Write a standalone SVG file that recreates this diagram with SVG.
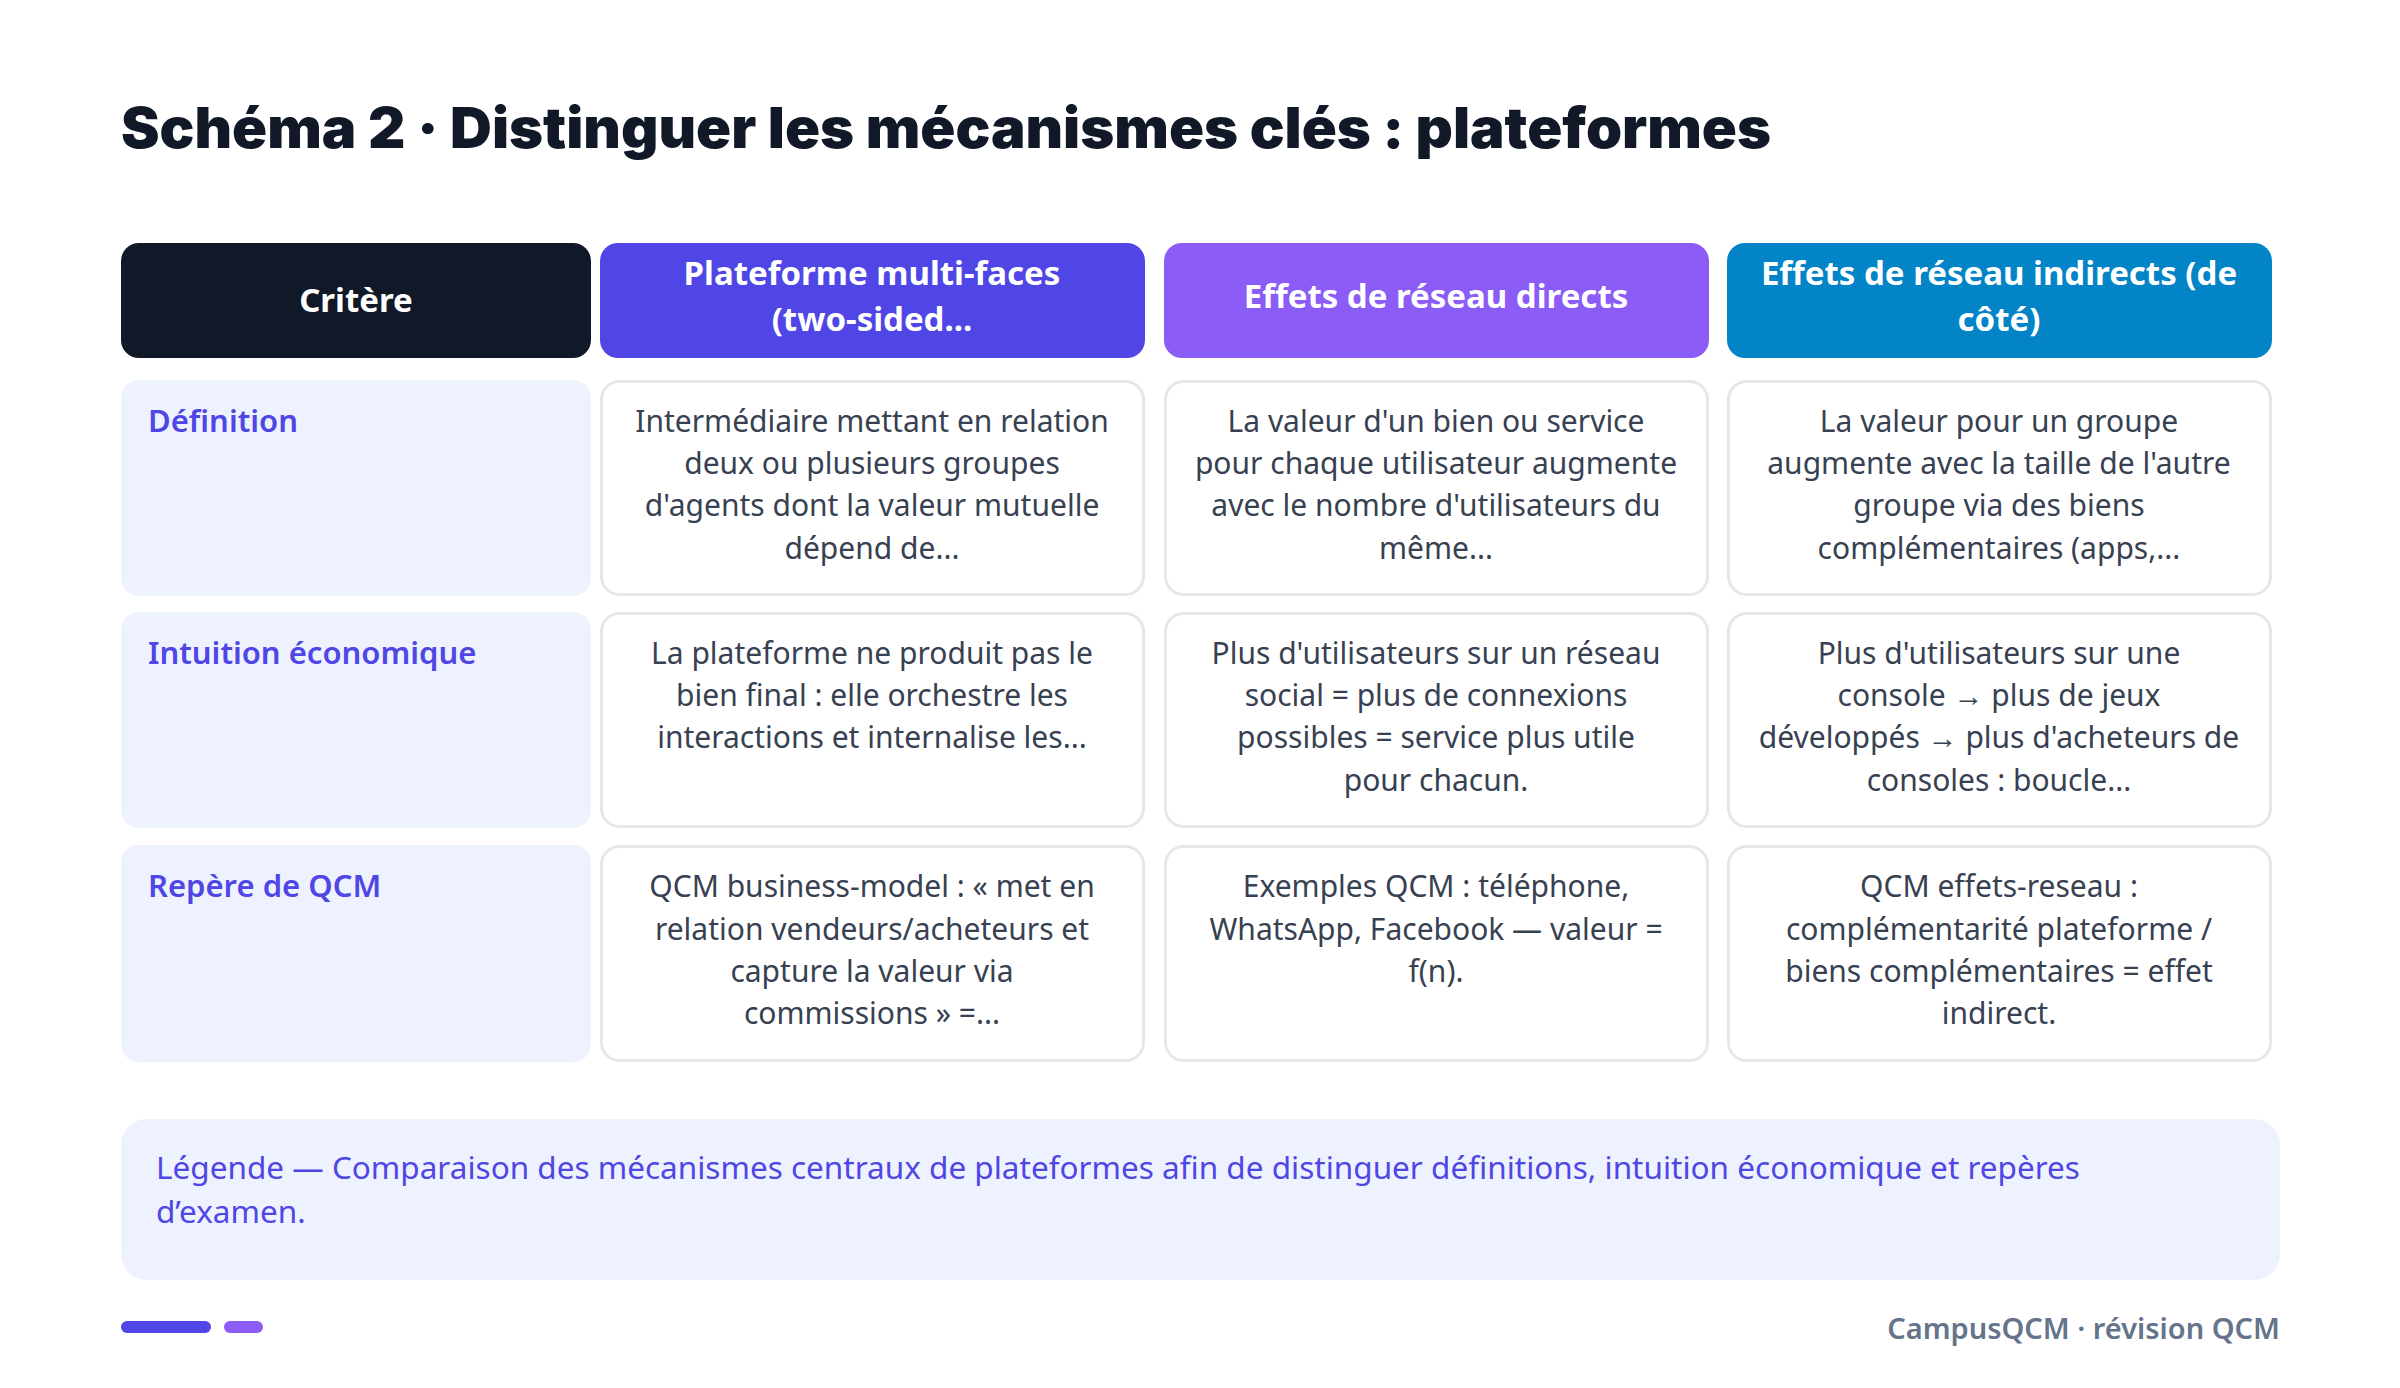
<svg xmlns="http://www.w3.org/2000/svg" width="2400" height="1388" viewBox="0 0 2400 1388">
<style>
text{font-family:"Noto Sans","Open Sans","Liberation Sans",sans-serif}
.title{font-family:Inter,"Noto Sans",sans-serif;font-weight:900;font-size:56px;fill:#111827}
.hd{fill:#fff;font-weight:700;font-size:33px;text-anchor:middle}
.lab{fill:#4f46e5;font-weight:600;font-size:31px}
.cell{fill:#fff;stroke:#e5e7eb;stroke-width:3}
.labbg{fill:#eef2ff}
.tx{fill:#374151;font-size:30px;text-anchor:middle}
.leg{fill:#4f46e5;font-size:31.5px}
</style>
<rect width="2400" height="1388" fill="#fff"/>
<text class="title" x="121" y="148" textLength="1650" lengthAdjust="spacingAndGlyphs">Schéma 2 · Distinguer les mécanismes clés : plateformes</text>
<g id="header">
<g id="h-critere"><rect x="121" y="243" width="470" height="115" rx="18" fill="#111827"/><text class="hd" x="356" y="312">Critère</text></g>
<g id="h-multi"><rect x="600" y="243" width="545" height="115" rx="18" fill="#4f46e5"/><text class="hd" x="872" y="285">Plateforme multi-faces</text><text class="hd" x="872" y="331">(two-sided...</text></g>
<g id="h-direct"><rect x="1164" y="243" width="545" height="115" rx="18" fill="#8b5cf6"/><text class="hd" x="1436" y="308">Effets de réseau directs</text></g>
<g id="h-indirect"><rect x="1727" y="243" width="545" height="115" rx="18" fill="#0284c7"/><text class="hd" x="1999" y="285">Effets de réseau indirects (de</text><text class="hd" x="1999" y="331">côté)</text></g>
</g>
<g id="row-definition">
<rect class="labbg" x="121" y="380" width="470" height="216" rx="18"/><text class="lab" x="148" y="432">Définition</text>
<rect class="cell" x="601.5" y="381.5" width="542" height="213" rx="18"/>
<text class="tx" x="872" y="432">Intermédiaire mettant en relation</text><text class="tx" x="872" y="474">deux ou plusieurs groupes</text><text class="tx" x="872" y="516">d'agents dont la valeur mutuelle</text><text class="tx" x="872" y="559">dépend de...</text>
<rect class="cell" x="1165.5" y="381.5" width="542" height="213" rx="18"/>
<text class="tx" x="1436" y="432">La valeur d'un bien ou service</text><text class="tx" x="1436" y="474">pour chaque utilisateur augmente</text><text class="tx" x="1436" y="516">avec le nombre d'utilisateurs du</text><text class="tx" x="1436" y="559">même...</text>
<rect class="cell" x="1728.5" y="381.5" width="542" height="213" rx="18"/>
<text class="tx" x="1999" y="432">La valeur pour un groupe</text><text class="tx" x="1999" y="474">augmente avec la taille de l'autre</text><text class="tx" x="1999" y="516">groupe via des biens</text><text class="tx" x="1999" y="559">complémentaires (apps,...</text>
</g>
<g id="row-intuition">
<rect class="labbg" x="121" y="612" width="470" height="216" rx="18"/><text class="lab" x="148" y="664">Intuition économique</text>
<rect class="cell" x="601.5" y="613.5" width="542" height="213" rx="18"/>
<text class="tx" x="872" y="664">La plateforme ne produit pas le</text><text class="tx" x="872" y="706">bien final : elle orchestre les</text><text class="tx" x="872" y="748">interactions et internalise les...</text>
<rect class="cell" x="1165.5" y="613.5" width="542" height="213" rx="18"/>
<text class="tx" x="1436" y="664">Plus d'utilisateurs sur un réseau</text><text class="tx" x="1436" y="706">social = plus de connexions</text><text class="tx" x="1436" y="748">possibles = service plus utile</text><text class="tx" x="1436" y="791">pour chacun.</text>
<rect class="cell" x="1728.5" y="613.5" width="542" height="213" rx="18"/>
<text class="tx" x="1999" y="664">Plus d'utilisateurs sur une</text><text class="tx" x="1999" y="706">console → plus de jeux</text><text class="tx" x="1999" y="748">développés → plus d'acheteurs de</text><text class="tx" x="1999" y="791">consoles : boucle...</text>
</g>
<g id="row-qcm">
<rect class="labbg" x="121" y="845" width="470" height="217" rx="18"/><text class="lab" x="148" y="897">Repère de QCM</text>
<rect class="cell" x="601.5" y="846.5" width="542" height="214" rx="18"/>
<text class="tx" x="872" y="897">QCM business-model : « met en</text><text class="tx" x="872" y="940">relation vendeurs/acheteurs et</text><text class="tx" x="872" y="982">capture la valeur via</text><text class="tx" x="872" y="1024">commissions » =...</text>
<rect class="cell" x="1165.5" y="846.5" width="542" height="214" rx="18"/>
<text class="tx" x="1436" y="897">Exemples QCM : téléphone,</text><text class="tx" x="1436" y="940">WhatsApp, Facebook — valeur =</text><text class="tx" x="1436" y="982">f(n).</text>
<rect class="cell" x="1728.5" y="846.5" width="542" height="214" rx="18"/>
<text class="tx" x="1999" y="897">QCM effets-reseau :</text><text class="tx" x="1999" y="940">complémentarité plateforme /</text><text class="tx" x="1999" y="982">biens complémentaires = effet</text><text class="tx" x="1999" y="1024">indirect.</text>
</g>
<g id="legend">
<rect x="121" y="1119" width="2159" height="161" rx="26" fill="#eef2ff"/>
<text class="leg" x="156" y="1179">Légende — Comparaison des mécanismes centraux de plateformes afin de distinguer définitions, intuition économique et repères</text>
<text class="leg" x="156" y="1223">d’examen.</text>
</g>
<g id="footer">
<rect x="121" y="1321" width="90" height="12" rx="6" fill="#4f46e5"/>
<rect x="224" y="1321" width="39" height="12" rx="6" fill="#8b5cf6"/>
<text x="2280" y="1339" text-anchor="end" font-size="29" font-weight="600" fill="#64748b">CampusQCM · révision QCM</text>
</g>
</svg>
